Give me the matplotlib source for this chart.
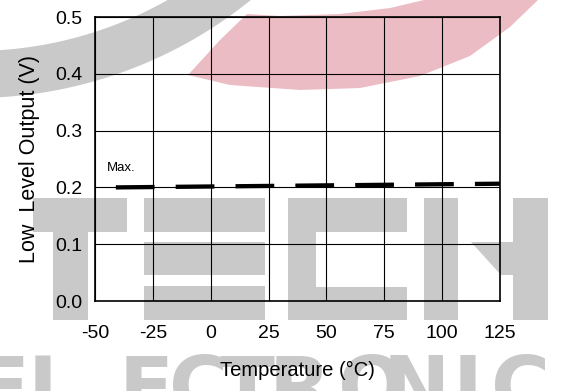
import matplotlib
matplotlib.use("Agg")
import matplotlib.pyplot as plt
import numpy as np
from matplotlib.patches import Polygon

plt.rcParams['font.family'] = ['Liberation Sans', 'DejaVu Sans']

# data
temperature = [-41, 125]
max_output = [0.200, 0.2065]
x_ticks = [-50, -25, 0, 25, 50, 75, 100, 125]
y_ticks = [0.0, 0.1, 0.2, 0.3, 0.4, 0.5]

W, H = 562, 391
fig = plt.figure(figsize=(W / 100, H / 100), dpi=100)
fig.patch.set_facecolor('white')

# background watermark, drawn in pixel coords (y down)
gray = '#c9c9c9'
pink = '#ecbcc4'

def px(pts):
    pts = np.asarray(pts, dtype=float)
    return np.column_stack([pts[:, 0] / W, 1 - pts[:, 1] / H])

def add_poly(pts, color):
    fig.patches.append(Polygon(px(pts), closed=True, transform=fig.transFigure,
                               facecolor=color, edgecolor='none', zorder=0))

# gray arc
t = np.linspace(0, np.pi / 2, 100)
cx, cy, r_in, r_out = -26, -342, 393, 440
outer = np.column_stack([cx + r_out * np.cos(t), cy + r_out * np.sin(t)])
inner = np.column_stack([cx + r_in * np.cos(t[::-1]), cy + r_in * np.sin(t[::-1])])
add_poly(np.vstack([outer, inner]), gray)

# pink crescent
add_poly([(188, 75), (230, 85), (300, 90), (360, 88), (420, 76), (470, 56),
          (510, 27), (538, 0), (424, 0), (390, 8), (340, 14), (280, 16),
          (247, 14), (220, 40)], pink)

# TECH blocks
blocks = [(33, 198, 127, 232), (53, 232, 88, 320),
          (144, 198, 265, 232), (144, 242, 265, 275), (144, 286, 265, 320),
          (288, 198, 407, 232), (288, 232, 316, 287), (288, 287, 407, 320),
          (424, 198, 458, 320), (513, 198, 548, 320)]
for x0, y0, x1, y1 in blocks:
    add_poly([(x0, y0), (x1, y0), (x1, y1), (x0, y1)], gray)
add_poly([(471, 242), (513, 242), (513, 275), (501, 275)], gray)

# ELECTRONIC letters
letters = list("ELECTRONIC")
letter_x = [2, 53, 146, 199, 247, 300, 372, 416, 468, 521]
for ch, lx in zip(letters, letter_x):
    fig.text(lx / W, 1 - 353 / H, ch, fontsize=58, fontweight='bold',
             family='DejaVu Sans', color=gray, ha='center', va='top', zorder=0)

# axes
ax = fig.add_axes([95 / W, 1 - 301 / H, 405 / W, 284 / H])
ax.set_facecolor('none')
ax.set_zorder(2)

ax.plot(temperature, max_output, color='black', lw=3.1,
        linestyle=(0, (9.0, 4.9)), dash_capstyle='butt', zorder=3)
ax.text(-44.8, 0.234, 'Max.', fontsize=9.5, va='center', ha='left')

ax.set_xlim(-50, 125)
ax.set_ylim(0, 0.5)
ax.set_xticks(x_ticks)
ax.set_yticks(y_ticks)
ax.set_xticklabels([str(v) for v in x_ticks])
ax.set_yticklabels([f'{v:.1f}' for v in y_ticks])
ax.tick_params(length=0, labelsize=14)
ax.tick_params(axis='x', pad=17)
ax.tick_params(axis='y', pad=9)
ax.grid(True, color='black', lw=0.8)
for s in ax.spines.values():
    s.set_linewidth(1.2)
    s.set_color('black')

ax.set_xlabel('Temperature (°C)', fontsize=14.5, labelpad=14)
ax.set_ylabel('Low  Level Output (V)', fontsize=15.5, labelpad=11)

fig.savefig('out.png', dpi=100)
